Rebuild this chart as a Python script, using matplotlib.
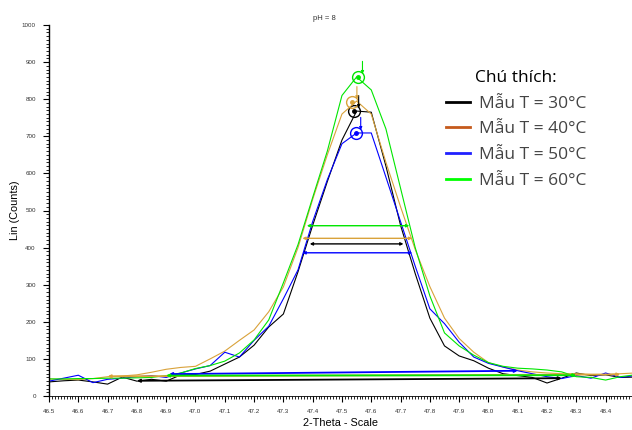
import numpy as np
import matplotlib.pyplot as plt
from matplotlib.lines import Line2D
from matplotlib.ticker import MultipleLocator

# data read from the XRD overlay (pH = 8), step 0.05 deg
two_theta = [46.50, 46.55, 46.60, 46.65, 46.70, 46.75, 46.80, 46.85, 46.90, 46.95,
             47.00, 47.05, 47.10, 47.15, 47.20, 47.25, 47.30, 47.35, 47.40, 47.45,
             47.50, 47.55, 47.60, 47.65, 47.70, 47.75, 47.80, 47.85, 47.90, 47.95,
             48.00, 48.05, 48.10, 48.15, 48.20, 48.25, 48.30, 48.35, 48.40, 48.45, 48.50]

t30 = [38, 41, 43, 38, 32, 51, 40, 45, 40, 57,
       58, 67, 86, 105, 137, 186, 221, 335, 460, 578,
       690, 768, 765, 620, 460, 330, 210, 135, 108, 95,
       75, 60, 55, 50, 35, 48, 62, 55, 57, 50, 51]
t40 = [46, 45, 44, 47, 52, 54, 57, 64, 72, 77,
       80, 100, 121, 150, 178, 227, 294, 400, 530, 650,
       760, 795, 760, 630, 510, 395, 295, 210, 155, 118,
       90, 78, 70, 65, 62, 60, 60, 58, 58, 60, 62]
t50 = [40, 48, 56, 36, 45, 48, 52, 55, 50, 62,
       73, 82, 118, 105, 150, 188, 262, 340, 470, 583,
       680, 709, 709, 590, 470, 350, 235, 195, 145, 105,
       88, 78, 68, 60, 52, 47, 55, 48, 62, 50, 55]
t60 = [46, 46, 47, 47, 48, 48, 49, 50, 55, 62,
       74, 82, 94, 116, 151, 205, 305, 408, 535, 660,
       810, 860, 825, 720, 560, 400, 270, 170, 135, 110,
       90, 80, 75, 73, 70, 65, 52, 50, 43, 52, 57]

labels = ["Mẫu T = 30°C", "Mẫu T = 40°C", "Mẫu T = 50°C", "Mẫu T = 60°C"]
series = [t30, t40, t50, t60]
line_colors = ["black", "#d9a23a", "#0000ff", "#00e600"]
legend_colors = ["black", "#c55a1c", "#2020ff", "#00ff00"]

# peak markers (circle position)
peak_x = [47.541, 47.535, 47.548, 47.554]
peak_y = [768, 792, 709, 860]

# FWHM arrows: left, right, height
fwhm_left = [47.39, 47.365, 47.365, 47.38]
fwhm_right = [47.71, 47.74, 47.74, 47.73]
fwhm_y = [410, 425, 386, 459]

# background lines: x0, y0, x1, y1
bg_x0 = [46.80, 46.70, 46.91, 46.90]
bg_y0 = [41, 53, 59, 55]
bg_x1 = [48.25, 48.45, 48.10, 48.30]
bg_y1 = [48, 58, 68, 56]

fig = plt.figure(figsize=(6.32, 4.30), dpi=100)
ax = fig.add_axes([49 / 632, 1 - 396 / 430, 583 / 632, 371 / 430])

for i in range(4):
    c = line_colors[i]
    ax.plot(two_theta, series[i], color=c, lw=0.8)
    # background line
    ax.annotate("", xy=(bg_x1[i], bg_y1[i]), xytext=(bg_x0[i], bg_y0[i]),
                arrowprops=dict(arrowstyle="<|-|>", color=c, lw=1.3, mutation_scale=4,
                                shrinkA=0, shrinkB=0))
    # FWHM
    ax.annotate("", xy=(fwhm_right[i], fwhm_y[i]), xytext=(fwhm_left[i], fwhm_y[i]),
                arrowprops=dict(arrowstyle="<|-|>", color=c, lw=1.0, mutation_scale=4,
                                shrinkA=0, shrinkB=0))
    # peak marker
    ax.plot(peak_x[i], peak_y[i], "o", mfc="none", mec=c, ms=8.5, mew=1.0)
    ax.plot(peak_x[i], peak_y[i], "o", color=c, ms=2.5)
    ax.annotate("", xy=(peak_x[i] + 0.016, peak_y[i] + 8), xytext=(peak_x[i] + 0.016, peak_y[i] + 42),
                arrowprops=dict(arrowstyle="-|>", color=c, lw=0.8, mutation_scale=4,
                                shrinkA=0, shrinkB=0))

ax.set_xlim(46.5, 48.49)
ax.set_ylim(0, 1000)
ax.spines["top"].set_visible(False)
ax.spines["right"].set_visible(False)
ax.spines["left"].set_linewidth(1.0)
ax.spines["bottom"].set_linewidth(0.6)

ax.xaxis.set_minor_locator(MultipleLocator(0.01))
ax.yaxis.set_major_locator(MultipleLocator(100))
ax.yaxis.set_minor_locator(MultipleLocator(10))
ax.set_xticks(np.arange(46.5, 48.45, 0.1))
ax.set_xticklabels([f"{v:.1f}" for v in np.arange(46.5, 48.45, 0.1)])
ax.tick_params(which="major", direction="out", length=4.5, width=0.8, labelsize=4.5, pad=5,
               labelcolor="#333333")
ax.tick_params(which="minor", direction="out", length=2.5, width=0.6)

ax.set_xlabel("2-Theta - Scale", fontsize=7.8, family="Liberation Sans", labelpad=3)
ax.set_ylabel("Lin (Counts)", fontsize=7.8, family="Liberation Sans", labelpad=1)
for lab in ax.get_xticklabels() + ax.get_yticklabels():
    lab.set_family("Liberation Sans")

fig.text(324 / 632, 1 - 18 / 430, "pH = 8", ha="center", va="center", fontsize=5.5,
         family="Liberation Sans", color="#333333")

handles = [Line2D([0], [0], color=legend_colors[i], lw=2) for i in range(4)]
leg = ax.legend(handles, labels, title="Chú thích:", loc="upper left",
                bbox_to_anchor=(446 / 632, 1 - 70 / 430), bbox_transform=fig.transFigure,
                frameon=False, prop={"family": "Open Sans", "size": 12.5},
                title_fontproperties={"family": "Open Sans", "size": 12.5},
                handlelength=1.4, handletextpad=0.5, labelspacing=0.55, borderpad=0,
                borderaxespad=0)
for t in leg.get_texts():
    t.set_color("#444444")

fig.savefig("out.png", dpi=100)
